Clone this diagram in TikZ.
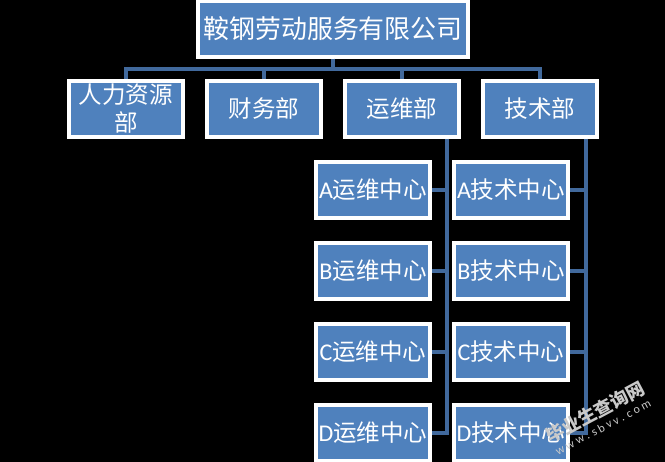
\documentclass[tikz,border=0pt]{standalone}
\usepackage{fontspec}
\setmainfont{Carlito}
\newfontfamily\cjk{Noto Sans CJK SC}[Scale=0.98]
\tikzset{
  orgbox/.style={rectangle,draw=white,line width=4pt,fill=boxblue,text=white,
    minimum width=114pt,minimum height=56pt,inner sep=0pt,align=center,
    font=\fontsize{24pt}{29pt}\selectfont},
  link/.style={draw=linkblue,line width=4pt},
  stamp/.style={text=stampgrey,rotate=28,inner sep=0pt}
}
\definecolor{boxblue}{HTML}{4F81BD}
\definecolor{linkblue}{HTML}{41699C}
\definecolor{stampgrey}{HTML}{C9C9C9}
\begin{document}
\begin{tikzpicture}[x=1pt,y=-1pt]
\fill[black] (0,0) rectangle (665,462);
\useasboundingbox (0,0) rectangle (665,462);
\node [orgbox,minimum width=270pt,font=\fontsize{26.5pt}{30pt}\selectfont] (company) at (333,29) {\cjk 鞍钢劳动服务有限公司};
\node [orgbox] (hr) at (126,109) {\cjk 人力资源\\[-1pt]\cjk 部};
\node [orgbox] (finance) at (264,109) {\cjk 财务部};
\node [orgbox] (ops) at (402,109) {\cjk 运维部};
\node [orgbox] (tech) at (540,109) {\cjk 技术部};
% centres hang off the two right-hand departments
\foreach \row/\ypos in {A/190,B/271,C/352,D/433} {
  \node [orgbox] (ops\row) at (373,\ypos) {\row\cjk 运维中心};
  \node [orgbox] (tech\row) at (511,\ypos) {\row\cjk 技术中心};
}
\foreach \dept in {hr,finance,ops,tech}
  \draw [link] (company.south) -- ++(0,10) -| (\dept.north);
\coordinate (opsbus) at ([xshift=-14pt]ops.south east);
\coordinate (techbus) at ([xshift=-13pt]tech.south east);
\draw [link] (opsbus) |- (opsD.east);
\draw [link] (techbus) |- (techD.east);
\foreach \row in {A,B,C} {
  \draw [link] (ops\row.east) -- (ops\row.east -| opsbus);
  \draw [link] (tech\row.east) -- (tech\row.east -| techbus);
}
\node [stamp,font=\fontsize{18.5pt}{19pt}\selectfont\bfseries] (stampname) at (595,412) {\cjk 毕业生查询网};
\node [stamp,font=\fontsize{12pt}{12pt}\selectfont] (stampurl) at (603,427) {w w w . s b v v . c o m};
\end{tikzpicture}
\end{document}
